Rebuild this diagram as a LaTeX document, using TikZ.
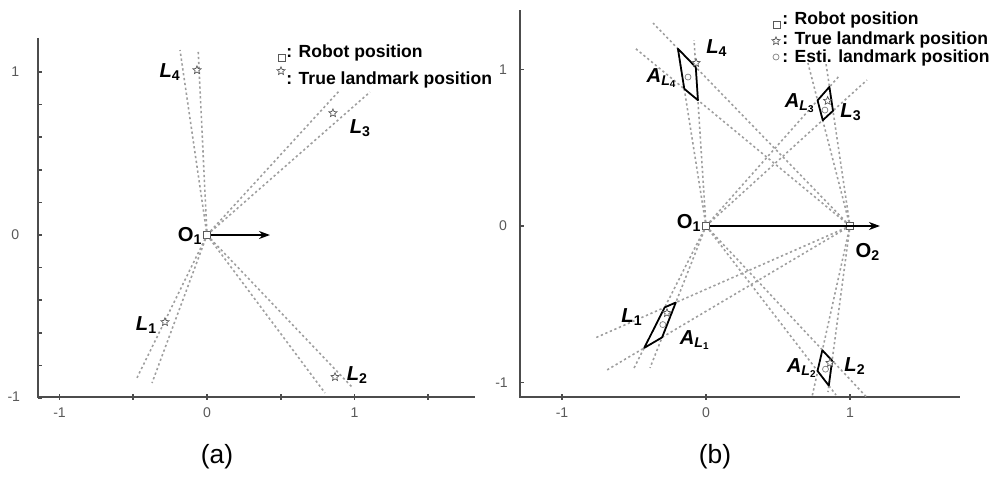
\documentclass[tikz,border=0pt]{standalone}
\usepackage{fontspec}
\setmainfont{Liberation Sans}
\usetikzlibrary{arrows.meta, shapes.geometric}

\newcommand{\lmk}[1]{{\bfseries\itshape L}\textsubscript{\bfseries #1}}
\newcommand{\reg}[1]{{\bfseries\itshape A}\textsubscript{\bfseries\itshape L\textsubscript{\upshape #1}}}
\newcommand{\org}[1]{{\bfseries O}\textsubscript{\bfseries #1}}

\begin{document}
\begin{tikzpicture}[
    x=0.02cm, y=-0.02cm,
    axis/.style={draw=black!70, line width=0.9pt},
    ray/.style={draw=black!38, line width=0.9pt, dash pattern=on 1.3pt off 1.5pt},
    area/.style={draw=black, line width=1pt, line join=round},
    robot/.style={rectangle, draw=black!65, fill=white, minimum size=0.14cm, inner sep=0pt},
    truelm/.style={star, star points=5, star point ratio=2.2, draw=black!65, fill=white, minimum size=0.17cm, inner sep=0pt},
    estlm/.style={circle, draw=black!50, fill=white, minimum size=0.12cm, inner sep=0pt},
    lab/.style={font=\fontsize{11.5}{12}\selectfont, inner sep=0pt},
    tick/.style={font=\fontsize{8}{9}\selectfont, text=black!65},
    legend/.style={anchor=west, inner sep=0pt, font=\fontsize{10}{11}\selectfont\bfseries},
    caption/.style={font=\fontsize{15}{17}\selectfont},
    arrow/.style={-{Stealth[length=2.2mm, width=1.6mm]}, line width=0.9pt}
]

\useasboundingbox (0,0) rectangle (994,481);

% (a) one robot position
\begin{scope}[shift={(207,235)}, x=2.95cm, y=3.26cm]
  % Axes
  \draw[axis] (-1.146,1.21) -- (-1.146,-0.994) -- (1.817,-0.994);
  \foreach \t in {-1,-0.5,...,1.5}
    \draw[axis] (\t,-1.012) -- (\t,-0.976);
  \foreach \i in {0,...,10}
    \draw[axis] (-1.146,{-1+0.2*\i}) -- (-1.12,{-1+0.2*\i});
  \node[tick] (ya1) at (-1.30,1) {1};
  \node[tick] (ya0) at (-1.30,0) {0};
  \node[tick] (yam) at (-1.31,-0.994) {-1};
  \node[tick] (xam) at (-1,-1.09) {-1};
  \node[tick] (xa0) at (0,-1.09) {0};
  \node[tick] (xa1) at (1,-1.09) {1};

  % Robot and bearing rays
  \node[robot] (oa) at (0,0) {};
  \coordinate (pa1) at (-0.475,-0.877); \coordinate (qa1) at (-0.373,-0.908);
  \coordinate (pa2) at (0.80,-0.969);   \coordinate (qa2) at (0.983,-0.933);
  \coordinate (pa3) at (0.902,0.890);   \coordinate (qa3) at (1.105,0.877);
  \coordinate (pa4) at (-0.183,1.135);  \coordinate (qa4) at (-0.06,1.135);
  \foreach \k in {1,...,4} {
    \draw[ray] (oa) -- (pa\k);
    \draw[ray] (oa) -- (qa\k);
  }
  \coordinate (heada) at (0.427,0);
  \draw[arrow] (oa) -- (heada);

  % Landmarks
  \node[truelm] (ta1) at (-0.285,-0.534) {};
  \node[truelm] (ta2) at (0.868,-0.871) {};
  \node[truelm] (ta3) at (0.854,0.748) {};
  \node[truelm] (ta4) at (-0.068,1.012) {};
  \node[lab] (la1) at (-0.41,-0.55) {\lmk{1}};
  \node[lab] (la2) at (1.02,-0.86) {\lmk{2}};
  \node[lab] (la3) at (1.04,0.656) {\lmk{3}};
  \node[lab] (la4) at (-0.25,1.0) {\lmk{4}};
  \node[lab] (na) at (-0.115,-0.006) {\org{1}};
\end{scope}

% legend (a)
\node[robot] (sqa) at (282,58) {};
\node[legend] (txa1) at (286,53) {: Robot position};
\node[truelm] (sta) at (281,71) {};
\node[legend] (txa2) at (286,80) {: True landmark position};
\node[caption] (capa) at (217,457) {(a)};

% (b) two robot positions
\begin{scope}[shift={(706,226)}, x=2.88cm, y=3.13cm]
  % Axes
  \draw[axis] (-1.292,1.38) -- (-1.292,-1.093) -- (1.764,-1.093);
  \foreach \t in {-1,0,1} {
    \draw[axis] (\t,-1.11) -- (\t,-1.075);
    \draw[axis] (-1.292,\t) -- (-1.265,\t);
  }
  \node[tick] (yb1) at (-1.41,1) {1};
  \node[tick] (yb0) at (-1.41,0) {0};
  \node[tick] (ybm) at (-1.42,-1) {-1};
  \node[tick] (xbm) at (-1,-1.195) {-1};
  \node[tick] (xb0) at (0,-1.195) {0};
  \node[tick] (xb1) at (1,-1.195) {1};

  % Robots and bearing rays
  \node[robot] (o1) at (0,0) {};
  \node[robot] (o2) at (1,0) {};
  \coordinate (a1) at (-0.507,-0.920); \coordinate (b1) at (-0.389,-0.907);
  \coordinate (c1) at (-0.771,-0.716); \coordinate (d1) at (-0.6875,-0.920);
  \coordinate (a2) at (1.112,-1.09);   \coordinate (b2) at (0.903,-1.08);
  \coordinate (c2) at (0.736,-1.093);  \coordinate (d2) at (0.847,-1.061);
  \coordinate (a3) at (0.931,0.965);   \coordinate (b3) at (1.118,0.933);
  \coordinate (c3) at (0.708,1.042);   \coordinate (d3) at (0.833,1.042);
  \coordinate (a4) at (-0.194,1.125);  \coordinate (b4) at (-0.083,1.188);
  \coordinate (c4) at (-0.493,1.137);  \coordinate (d4) at (-0.368,1.297);
  \foreach \k in {1,...,4} {
    \draw[ray] (o1) -- (a\k);
    \draw[ray] (o1) -- (b\k);
    \draw[ray] (o2) -- (c\k);
    \draw[ray] (o2) -- (d\k);
  }
  \coordinate (headb) at (1.208,0);
  \draw[arrow] (o1) -- (headb);

  % Uncertainty areas
  \draw[area] (-0.287,-0.520) -- (-0.429,-0.779) -- (-0.305,-0.712) -- (-0.210,-0.489) -- cycle;
  \draw[area] (0.808,-0.794) -- (0.876,-0.861) -- (0.853,-1.020) -- (0.7745,-0.926) -- cycle;
  \draw[area] (0.775,0.803) -- (0.857,0.889) -- (0.882,0.736) -- (0.811,0.676) -- cycle;
  \draw[area] (-0.151,0.877) -- (-0.195,1.133) -- (-0.071,1.015) -- (-0.056,0.804) -- cycle;

  % Landmarks
  \node[truelm] (t1) at (-0.271,-0.556) {};
  \node[estlm] (e1) at (-0.300,-0.630) {};
  \node[truelm] (t2) at (0.861,-0.875) {};
  \node[estlm] (e2) at (0.830,-0.915) {};
  \node[truelm] (t3) at (0.845,0.800) {};
  \node[estlm] (e3) at (0.826,0.741) {};
  \node[truelm] (t4) at (-0.069,1.042) {};
  \node[estlm] (e4) at (-0.125,0.952) {};
  \node[lab] (l1) at (-0.514,-0.581) {\lmk{1}};
  \node[lab] (r1) at (-0.076,-0.728) {\reg{1}};
  \node[lab] (l2) at (1.035,-0.895) {\lmk{2}};
  \node[lab] (r2) at (0.667,-0.907) {\reg{2}};
  \node[lab] (l3) at (1.007,0.728) {\lmk{3}};
  \node[lab] (r3) at (0.653,0.786) {\reg{3}};
  \node[lab] (l4) at (0.076,1.137) {\lmk{4}};
  \node[lab] (r4) at (-0.306,0.946) {\reg{4}};
  \node[lab] (n1) at (-0.118,0.019) {\org{1}};
  \node[lab] (n2) at (1.125,-0.166) {\org{2}};
\end{scope}

% legend (b)
\node[robot] (sqb) at (777,25) {};
\node[legend] (txb1) at (782,20) {: Robot position};
\node[truelm] (stb) at (776,41) {};
\node[legend] (txb2) at (782,40) {: True landmark position};
\node[estlm] (cib) at (776,57) {};
\node[legend] (txb3) at (782,58) {: Esti. landmark position};
\node[caption] (capb) at (715,457) {(b)};

\end{tikzpicture}
\end{document}
